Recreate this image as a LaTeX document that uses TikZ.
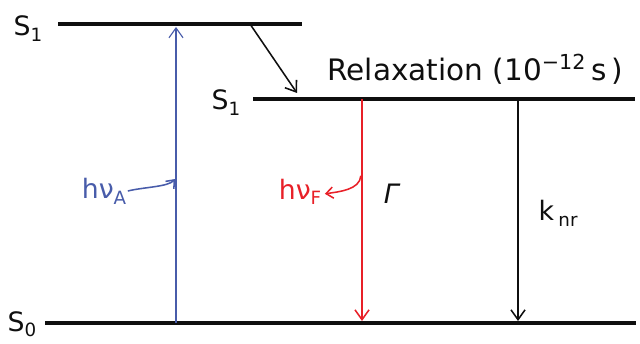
\documentclass[tikz,border=0pt]{standalone}
\usepackage{fontspec}
\setmainfont{DejaVu Sans}
\usepackage{xcolor}
\usepackage{tikz}
\usetikzlibrary{arrows.meta, positioning, calc}
\definecolor{absorbBlue}{RGB}{72, 92, 170}
\definecolor{emitRed}{RGB}{232, 32, 40}
\definecolor{levelBlack}{RGB}{15, 15, 15}
\newcommand{\lbl}{\fontsize{19}{22}\selectfont}
\newcommand{\sub}[1]{\raisebox{-0.4ex}{\fontsize{13}{15}\selectfont #1}}

\begin{document}
\begin{tikzpicture}[
    level/.style={
        line width=2.5pt,
        color=levelBlack
    },
    transition/.style={
        -{Straight Barb[length=7pt, width=10pt]},
        line width=1.1pt
    },
    photon/.style={
        -{Straight Barb[length=5pt, width=8pt]},
        line width=1.1pt
    },
    statelabel/.style={
        font=\lbl,
        text=levelBlack,
        inner sep=1pt
    }
]
\useasboundingbox (0,0) rectangle (16,8.575);

% Energy levels
\coordinate (s1a) at (1.45,7.975);
\coordinate (s1b) at (7.55,7.975);
\coordinate (s1c) at (6.325,6.1);
\coordinate (s1d) at (15.875,6.1);
\coordinate (s0a) at (1.125,0.5);
\coordinate (s0b) at (15.9,0.5);
\draw[level] (s1a) -- (s1b);
\draw[level] (s1c) -- (s1d);
\draw[level] (s0a) -- (s0b);

% Level labels
\node[statelabel] (l1) at (0.7,7.85) {S\sub{1}};
\node[statelabel] (l2) at (5.65,6.0) {S\sub{1}};
\node[statelabel] (l0) at (0.55,0.47) {S\sub{0}};

% Transition end points
\coordinate (absLow) at (4.4,0.5);
\coordinate (absHigh) at (4.4,7.9);
\coordinate (fluHigh) at (9.05,6.1);
\coordinate (fluLow) at (9.05,0.55);
\coordinate (nrHigh) at (12.95,6.1);
\coordinate (nrLow) at (12.95,0.55);
\coordinate (relStart) at (6.25,7.975);
\coordinate (relEnd) at (7.425,6.25);

% Transitions
\draw[transition, absorbBlue, line width=0.8pt] (absLow) -- (absHigh);
\draw[transition, emitRed] (fluHigh) -- (fluLow);
\draw[transition, levelBlack] (nrHigh) -- (nrLow);
\draw[transition, levelBlack] (relStart) -- (relEnd);

% Labels
\node[statelabel, font=\fontsize{21}{25}\selectfont] (relax) at (11.88,6.85) {Relaxation (10\textsuperscript{−12}\,s\,)};
\node[statelabel, text=absorbBlue] (hvA) at (2.6,3.8) {hν\sub{A}};
\node[statelabel, text=emitRed] (hvF) at (7.5,3.78) {hν\sub{F}};
\node[statelabel] (gam) at (9.78,3.72) {\itshape Γ};
\node[statelabel] (knr) at (13.95,3.25) {k\,\sub{nr}};

% Photon arrows
\draw[photon, absorbBlue] (hvA.east) .. controls ($(hvA.east)+(0.4,0.1)$) and ($(absHigh |- hvA)+(-0.2,0.1)$) .. ($(absHigh |- hvA)+(-0.02,0.3)$);
\draw[photon, emitRed] ($(fluHigh |- hvF)+(-0.03,0.4)$) .. controls ($(fluHigh |- hvF)+(-0.05,0.05)$) and ($(hvF.east)+(0.4,0)$) .. ($(hvF.east)+(0.05,-0.05)$);

\end{tikzpicture}
\end{document}
